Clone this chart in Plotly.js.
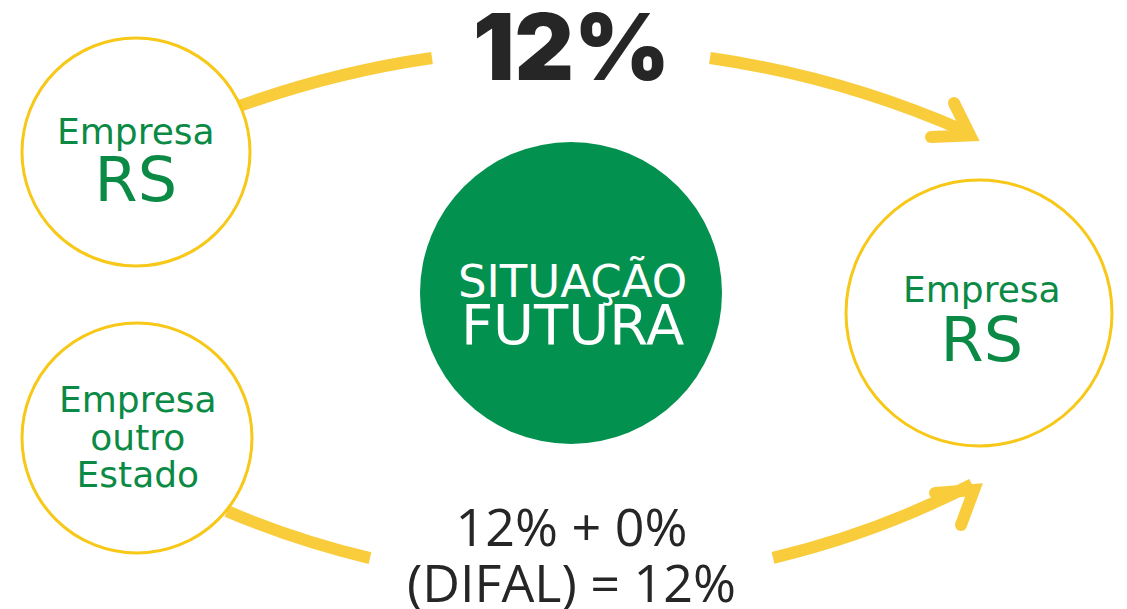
<!DOCTYPE html>
<html>
<head>
<meta charset="utf-8">
<script src="https://cdn.plot.ly/plotly-3.0.1.min.js"></script>
<style>html,body{margin:0;padding:0;background:#fff;}#chart{width:1127px;height:609px;}</style>
</head>
<body>
<div id="chart"></div>
<script>
// ---- content (text values) ----
const originTopLines = ["Empresa", "RS"];
const originOtherLines = ["Empresa", "outro", "Estado"];
const destinationLines = ["Empresa", "RS"];
const centerLines = ["SITUAÇÃO", "FUTURA"];
const topRateLines = ["12%"];
const bottomRateLines = ["12% + 0%", "(DIFAL) = 12%"];

// ---- styles ----
const YELLOW_ARROW = "#F9CC3B";
const YELLOW_RING = "#F7C818";
const GREEN = "#03914F";
const GREEN_TEXT = "#0B8A45";
const DARK = "#262626";
const SANS = "DejaVu Sans, sans-serif";
const OPEN = "Open Sans, sans-serif";

const shapes = [];
const annotations = [];

// cubic-bezier approximation of a circular arc
function arcPath(cx, cy, r, xa, xb, upper) {
  function ang(x) {
    const dx = x - cx;
    const dy = Math.sqrt(r * r - dx * dx) * (upper ? -1 : 1);
    return Math.atan2(dy, dx);
  }
  const a0 = ang(xa), a1 = ang(xb);
  const k = 4 / 3 * Math.tan((a1 - a0) / 4);
  const p0 = [cx + r * Math.cos(a0), cy + r * Math.sin(a0)];
  const p3 = [cx + r * Math.cos(a1), cy + r * Math.sin(a1)];
  const p1 = [p0[0] - k * r * Math.sin(a0), p0[1] + k * r * Math.cos(a0)];
  const p2 = [p3[0] + k * r * Math.sin(a1), p3[1] - k * r * Math.cos(a1)];
  return `M${p0[0]},${p0[1]} C${p1[0]},${p1[1]} ${p2[0]},${p2[1]} ${p3[0]},${p3[1]}`;
}
function addArc(cx, cy, r, xa, xb, upper) {
  shapes.push({type: "path", xref: "x", yref: "y", path: arcPath(cx, cy, r, xa, xb, upper),
    line: {color: YELLOW_ARROW, width: 12}, fillcolor: "rgba(0,0,0,0)"});
}
function addHead(tip, b1, b2, w) {
  function unit(v) { const l = Math.hypot(v[0], v[1]); return [v[0] / l, v[1] / l]; }
  const u1 = unit([b1[0] - tip[0], b1[1] - tip[1]]);
  const u2 = unit([b2[0] - tip[0], b2[1] - tip[1]]);
  const half = Math.acos(u1[0] * u2[0] + u1[1] * u2[1]) / 2;
  const bis = unit([u1[0] + u2[0], u1[1] + u2[1]]);
  const d = (w / 2) / Math.sin(half);
  const v = [tip[0] + bis[0] * d, tip[1] + bis[1] * d];
  shapes.push({type: "path", xref: "x", yref: "y",
    path: `M${b1[0]},${b1[1]} L${v[0]},${v[1]} L${b2[0]},${b2[1]}`,
    line: {color: YELLOW_ARROW, width: w}, fillcolor: "rgba(0,0,0,0)"});
  [b1, b2].forEach(p => shapes.push({type: "circle", xref: "x", yref: "y",
    x0: p[0] - w / 2, x1: p[0] + w / 2, y0: p[1] - w / 2, y1: p[1] + w / 2,
    line: {width: 0}, fillcolor: YELLOW_ARROW}));
}
function addRing(cx, cy, r) {
  shapes.push({type: "circle", xref: "x", yref: "y", x0: cx - r, x1: cx + r, y0: cy - r, y1: cy + r,
    line: {color: YELLOW_RING, width: 3}, fillcolor: "#ffffff"});
}
// one annotation per block of lines
function addBlock(lines, x, y, base, sizes, color, family, weight) {
  const text = lines.map((t, i) => `<span style="font-size:${sizes[i]}px">${t}</span>`).join("<br>");
  annotations.push({xref: "x", yref: "y", x: x, y: y, text: text, showarrow: false,
    xanchor: "center", yanchor: "middle", align: "center",
    font: {family: family, size: base, color: color, weight: weight || 400}});
}

// arcs (top: circle centred below; bottom: centred above)
addArc(571, 1023.7, 975.7, 237, 432, true);
addArc(571, 1023.7, 975.7, 710, 966, true);
addArc(571, -295.6, 877, 227, 370, false);
addArc(571, -295.6, 877, 773, 972, false);
addHead([983, 143], [954, 103], [931, 137], 12);
addHead([986, 481], [935, 493], [961, 525], 12);

// nodes
addRing(136, 152, 114);
addRing(137, 438, 115);
addRing(979, 313, 133);
shapes.push({type: "circle", xref: "x", yref: "y", x0: 420, x1: 722, y0: 142, y1: 444,
  line: {width: 0}, fillcolor: GREEN});

addBlock(originTopLines, 136, 163, 44, [36, 62], GREEN_TEXT, SANS);
addBlock(originOtherLines, 138, 437, 29, [36, 36, 36], GREEN_TEXT, SANS);
addBlock(destinationLines, 982, 322, 45, [36, 62], GREEN_TEXT, SANS);
addBlock(centerLines, 572, 306, 36, [45, 56], "#ffffff", SANS);
addBlock(topRateLines, 571, 46, 92, [92], DARK, "Inter, Lato, sans-serif", 900);
addBlock(bottomRateLines, 571, 553, 43, [52, 52], DARK, OPEN);

const layout = {
  width: 1127, height: 609,
  margin: {l: 0, r: 0, t: 0, b: 0},
  paper_bgcolor: "#ffffff", plot_bgcolor: "#ffffff",
  xaxis: {range: [0, 1127], visible: false, fixedrange: true},
  yaxis: {range: [609, 0], visible: false, fixedrange: true},
  showlegend: false,
  shapes: shapes,
  annotations: annotations
};
Plotly.newPlot("chart", [], layout, {displayModeBar: false, staticPlot: true});
</script>
</body>
</html>
